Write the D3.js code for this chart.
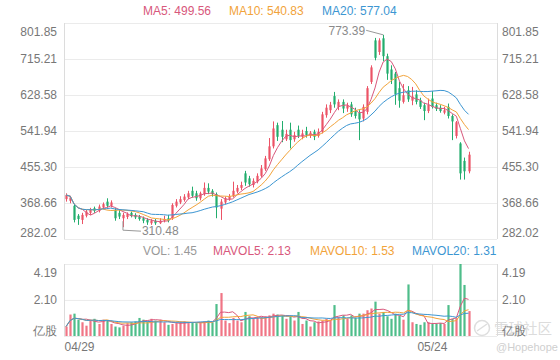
<!DOCTYPE html>
<html><head><meta charset="utf-8">
<script src="https://cdn.jsdelivr.net/npm/d3@7"></script>
<style>body{margin:0;background:#fff;} svg{display:block;font-family:Arial,"Liberation Sans",sans-serif;}</style>
</head><body><svg id="c" width="560" height="360"></svg>
<script>
// ---- data ----
const open  = [378,374,362,338,328,338,345,356,350,358,372,362,352,345,332,335,345,340,336,332,
               328,320,326,320,326,332,332,362,370,376,382,398,392,380,390,405,398,390,355,370,
               378,385,396,405,440,428,412,420,434,450,474,505,556,545,522,545,522,545,528,542,
               530,540,530,540,580,592,626,600,612,596,606,590,585,572,588,660,760,732,765,722,
               690,680,645,612,640,615,630,616,604,590,620,604,598,586,600,578,530,512,470,445];
const high  = [392,386,366,342,345,352,357,360,365,370,380,375,356,352,345,346,348,344,340,336,
               332,330,330,332,338,340,368,378,385,390,398,408,398,396,418,416,402,394,378,384,
               390,420,412,420,446,434,428,440,460,482,525,565,562,566,545,562,540,555,545,552,
               542,545,548,588,606,612,636,618,618,610,612,598,592,606,650,700,766,765,773.39,728,
               700,684,660,655,650,648,640,622,610,620,638,610,604,600,608,582,566,515,478,492];
const low   = [372,368,322,316,318,334,340,345,346,354,358,358,326,330,310.48,330,334,330,326,320,
               316,316,316,318,322,322,328,358,366,372,378,382,374,375,386,390,384,332,328,366,
               374,382,392,400,410,408,406,416,430,446,470,500,518,515,518,500,516,525,522,526,
               525,520,526,536,574,585,598,592,585,588,576,572,520,565,582,655,712,725,710,665,
               655,605,598,608,612,604,606,595,568,585,596,590,586,582,572,520,524,425,425,440];
const close = [388,382,328,330,340,348,352,350,360,366,362,370,332,336,340,342,338,334,330,326,
               322,326,320,326,330,326,364,372,378,384,392,386,380,392,405,396,390,358,372,380,
               385,398,405,412,418,414,422,434,452,476,505,548,528,528,535,520,532,530,536,532,
               538,528,540,582,598,605,606,612,596,604,582,578,570,600,645,695,718,760,722,680,
               665,630,615,628,618,625,612,600,590,605,600,595,590,592,578,565,563,440,445,485];
const volume= [0.55,1.25,1.30,0.95,0.80,0.60,0.95,1.00,0.70,0.95,0.90,0.70,0.55,0.50,0.60,0.75,0.80,0.85,1.05,0.95,
               0.85,1.00,0.90,0.95,0.80,0.65,0.70,0.75,0.80,0.85,0.75,0.80,0.75,0.80,0.85,0.90,0.80,1.86,2.50,0.90,
               0.75,1.05,0.90,0.80,1.40,1.15,1.00,1.10,1.10,1.15,1.20,1.30,1.25,1.20,1.00,1.15,0.90,1.40,0.70,0.90,
               0.55,0.80,0.85,0.90,1.00,0.95,1.80,1.10,1.20,1.00,1.20,1.05,1.30,1.30,1.50,1.60,2.00,1.30,1.40,1.15,
               1.00,1.30,1.20,0.95,3.00,0.80,0.70,0.65,0.80,0.80,0.70,0.70,0.75,0.70,1.80,1.00,1.04,4.19,2.97,1.45];
const priceTicks = [282.02,368.66,455.30,541.94,628.58,715.21,801.85];
const volTicks   = [2.10,4.19];
const dateTickIdx    = [0,90];
const dateTickLabels = ['04/29','05/24'];
const maLegend  = [['MA5','499.56'],['MA10','540.83'],['MA20','577.04']];
const volLegend = [['VOL','1.45'],['MAVOL5','2.13'],['MAVOL10','1.53'],['MAVOL20','1.31']];
const maxLabel = '773.39', minLabel = '310.48';

// ---- style ----
const RED='#ec5366', GREEN='#22ad6d', C5='#d8587c', C10='#f2a33a', C20='#3c96d2';
const L=64, R=497, PT=23, PB=239, VT=264, VB=336;
const svg=d3.select('#c');
const n=close.length;
const x=d3.scaleLinear().domain([-0.5,106]).range([L,R]);
const y=d3.scaleLinear().domain([282.02,801.85]).range([PB,PT]);
const yv=d3.scaleLinear().domain([0,4.19]).range([VB,VT]);
const bw=2.2;

function ma(arr,k){return arr.map((_,i)=>d3.mean(arr.slice(Math.max(0,i-k+1),i+1)));}

// grid
const g=svg.append('g');
g.selectAll('.hp').data(priceTicks).join('line').attr('x1',L).attr('x2',R)
 .attr('y1',d=>y(d)+0.5).attr('y2',d=>y(d)+0.5).attr('stroke','#ebebeb');
g.selectAll('.hv').data([0,...volTicks]).join('line').attr('x1',L).attr('x2',R)
 .attr('y1',d=>yv(d)+0.5).attr('y2',d=>yv(d)+0.5).attr('stroke','#ebebeb');
[[PT,PB],[VT,VB]].forEach(([a,b])=>{
  [L,R].forEach(xx=>g.append('line').attr('x1',xx+0.5).attr('x2',xx+0.5).attr('y1',a).attr('y2',b).attr('stroke','#dcdcdc'));
  dateTickIdx.slice(1).forEach(i=>g.append('line').attr('x1',Math.round(x(i))+0.5).attr('x2',Math.round(x(i))+0.5)
     .attr('y1',a).attr('y2',b).attr('stroke','#e6e6e6'));
});

// candles
const idx=d3.range(n);
const col=i=>close[i]>=open[i]?RED:GREEN;
const cg=svg.append('g');
cg.selectAll('.w').data(idx).join('line')
 .attr('x1',i=>Math.round(x(i))+0.5).attr('x2',i=>Math.round(x(i))+0.5)
 .attr('y1',i=>y(high[i])).attr('y2',i=>y(low[i])).attr('stroke',col);
cg.selectAll('.b').data(idx).join('rect')
 .attr('x',i=>Math.round(x(i))+0.5-bw/2).attr('width',bw)
 .attr('y',i=>y(Math.max(open[i],close[i])))
 .attr('height',i=>Math.max(1,Math.abs(y(open[i])-y(close[i]))))
 .attr('fill',col);

// MA lines
const line=d3.line().x((d,i)=>x(i)).y(d=>y(d));
[[5,C5],[10,C10],[20,C20]].forEach(([k,c])=>{
  svg.append('path').attr('d',line(ma(close,k))).attr('fill','none').attr('stroke',c).attr('stroke-width',1);
});

// max / min labels
const iMax=d3.maxIndex(high), iMin=d3.minIndex(low);
const lab=svg.append('g').attr('fill','#8a8a8a').attr('font-size',12);
{
  const hx=x(iMax), hy=y(high[iMax]);
  lab.append('polyline').attr('points',`${hx},${hy} ${hx-17},${hy-4.5}`).attr('stroke','#999').attr('fill','none');
  lab.append('text').attr('x',hx-18).attr('y',hy-4.5).attr('dy','0.35em').attr('text-anchor','end').text(maxLabel);
  const lx=x(iMin), ly=y(low[iMin]);
  lab.append('polyline').attr('points',`${lx},${ly-6} ${lx},${ly+3} ${lx+18},${ly+4}`).attr('stroke','#999').attr('fill','none');
  lab.append('text').attr('x',lx+19).attr('y',ly+4).attr('dy','0.35em').text(minLabel);
}

// volume
const vg=svg.append('g');
vg.selectAll('rect').data(idx).join('rect')
 .attr('x',i=>Math.round(x(i))+0.5-bw/2).attr('width',bw)
 .attr('y',i=>yv(volume[i])).attr('height',i=>VB-yv(volume[i]))
 .attr('fill',col).attr('opacity',0.8);
const vline=d3.line().x((d,i)=>x(i)).y(d=>yv(d));
[[5,C5],[10,C10],[20,C20]].forEach(([k,c])=>{
  svg.append('path').attr('d',vline(ma(volume,k))).attr('fill','none').attr('stroke',c).attr('stroke-width',1);
});

// axes
function styleAxis(sel){
  sel.select('.domain').remove();
  sel.selectAll('text').attr('fill','#777').style('font-size','12px').style('font-family','Arial,"Liberation Sans",sans-serif');
}
const fmt=d=>d.toFixed(2);
function yAxes(scale,ticks,top,bottom){
  const la=svg.append('g').attr('transform',`translate(${L},0)`).call(d3.axisLeft(scale).tickValues(ticks).tickSize(0).tickPadding(7).tickFormat(fmt));
  const ra=svg.append('g').attr('transform',`translate(${R},0)`).call(d3.axisRight(scale).tickValues(ticks).tickSize(0).tickPadding(5).tickFormat(fmt));
  [la,ra].forEach(a=>{styleAxis(a);
    a.selectAll('text').attr('dy',d=>d===top?'1.05em':(d===bottom?'-0.2em':'0.32em'));});
}
yAxes(y,priceTicks,801.85,282.02);
yAxes(yv,volTicks,4.19,null);
svg.append('text').attr('x',57).attr('y',335).attr('text-anchor','end').attr('fill','#777').attr('font-size',12).text('亿股');

// watermark
const wm=svg.append('g').attr('fill','none');
wm.append('circle').attr('cx',482).attr('cy',328).attr('r',7.5).attr('stroke','#dedede').attr('stroke-width',1.5);
wm.append('path').attr('d','M477,331 L487,324').attr('stroke','#dedede').attr('stroke-width',1.5);
svg.append('text').attr('x',494).attr('y',334).attr('fill','#dcdcdc').attr('font-size',14.5).attr('font-family','"Noto Sans CJK SC",sans-serif').text('雪球社区');
svg.append('text').attr('x',496).attr('y',351).attr('fill','#cfcfcf').attr('font-size',11).text('@Hopehope');
svg.append('text').attr('x',502).attr('y',335).attr('fill','#777').attr('font-size',12).text('亿股');

// x axis
const xa=svg.append('g').attr('transform',`translate(0,${VB})`)
 .call(d3.axisBottom(x).tickValues(dateTickIdx).tickSize(0).tickPadding(6).tickFormat((d,i)=>dateTickLabels[i]));
styleAxis(xa);
xa.selectAll('text').filter(d=>d===0).attr('text-anchor','start').attr('x',L-x(0));

// legends
const lg=svg.append('g').attr('font-size',12);
const maX=[143,229,322], maC=[C5,C10,C20];
maLegend.forEach((m,i)=>lg.append('text').attr('x',maX[i]).attr('y',15).attr('fill',maC[i]).text(`${m[0]}: ${m[1]}`));
const vX=[143,213,310,412], vC=['#999',C5,C10,C20];
volLegend.forEach((m,i)=>lg.append('text').attr('x',vX[i]).attr('y',255).attr('fill',vC[i]).text(`${m[0]}: ${m[1]}`));
</script></body></html>
